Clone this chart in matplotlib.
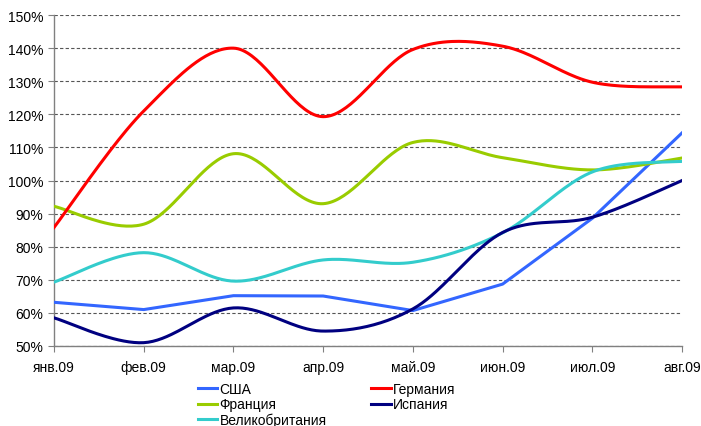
import numpy as np
import matplotlib.pyplot as plt
from matplotlib.ticker import FuncFormatter

plt.rcParams['font.family'] = ['Liberation Sans', 'DejaVu Sans']

months = ['янв.09', 'фев.09', 'мар.09', 'апр.09', 'май.09', 'июн.09', 'июл.09', 'авг.09']

usa = [63.2, 61.0, 65.2, 65.1, 60.7, 68.7, 88.6, 114.4]
germany = [85.8, 121.0, 140.0, 119.3, 139.6, 140.6, 129.7, 128.3]
france = [92.2, 86.8, 108.1, 93.0, 111.5, 106.9, 103.2, 106.8]
uk = [69.3, 78.2, 69.6, 76.0, 75.3, 84.2, 102.6, 105.8]
spain = [58.5, 51.0, 61.5, 54.5, 61.2, 84.3, 88.9, 100.0]


# Excel-style smoothing: cubic Bezier segments with Catmull-Rom control points
def smooth(x, y, steps=40):
    x = np.asarray(x, float)
    y = np.asarray(y, float)
    px = np.concatenate([[x[0]], x, [x[-1]]])
    py = np.concatenate([[y[0]], y, [y[-1]]])
    xs, ys = [], []
    t = np.linspace(0, 1, steps)
    for i in range(1, len(px) - 2):
        p0 = np.array([px[i], py[i]])
        p3 = np.array([px[i + 1], py[i + 1]])
        p1 = p0 + (np.array([px[i + 1], py[i + 1]]) - np.array([px[i - 1], py[i - 1]])) / 6
        p2 = p3 - (np.array([px[i + 2], py[i + 2]]) - np.array([px[i], py[i]])) / 6
        b = ((1 - t) ** 3)[:, None] * p0 + (3 * (1 - t) ** 2 * t)[:, None] * p1 \
            + (3 * (1 - t) * t ** 2)[:, None] * p2 + (t ** 3)[:, None] * p3
        xs.append(b[:, 0])
        ys.append(b[:, 1])
    return np.concatenate(xs), np.concatenate(ys)


fig = plt.figure(figsize=(7.01, 4.27), dpi=100)
ax = fig.add_axes([0.077, 0.1874, 0.896, 0.775])

x = np.arange(len(months))
lw = 2.2

ax.plot(x, usa, color='#3366FF', lw=lw, label='США', zorder=3)
sx, sy = smooth(x, france)
ax.plot(sx, sy, color='#99CC00', lw=lw, label='Франция', zorder=3)
sx, sy = smooth(x, uk)
ax.plot(sx, sy, color='#33CCCC', lw=lw, label='Великобритания', zorder=3)
sx, sy = smooth(x, germany)
ax.plot(sx, sy, color='#FF0000', lw=lw, label='Германия', zorder=3)
sx, sy = smooth(x, spain)
ax.plot(sx, sy, color='#000080', lw=lw, label='Испания', zorder=3)

ax.set_xlim(0, 7)
ax.set_ylim(50, 150)
ax.set_xticks(x)
ax.set_xticklabels(months)
ax.set_yticks(np.arange(50, 151, 10))
ax.yaxis.set_major_formatter(FuncFormatter(lambda v, p: '%d%%' % v))

ax.grid(axis='y', color='#555555', lw=0.8, linestyle=(0, (3, 2)), zorder=1)
for s in ['top', 'right']:
    ax.spines[s].set_visible(False)
for s in ['left', 'bottom']:
    ax.spines[s].set_color('#808080')
    ax.spines[s].set_linewidth(1.0)
ax.tick_params(axis='both', direction='out', length=4, color='#808080',
               labelsize=10, labelcolor='black')
ax.tick_params(axis='x', pad=6)

ax.legend(ncol=2, loc='upper left', bbox_to_anchor=(0.2825, 0.103),
          bbox_transform=fig.transFigure, frameon=False,
          fontsize=10, handlelength=1.4, handletextpad=0.15, columnspacing=3.2,
          labelspacing=0.1, borderaxespad=0, borderpad=0)

fig.savefig('out.png', dpi=100)
